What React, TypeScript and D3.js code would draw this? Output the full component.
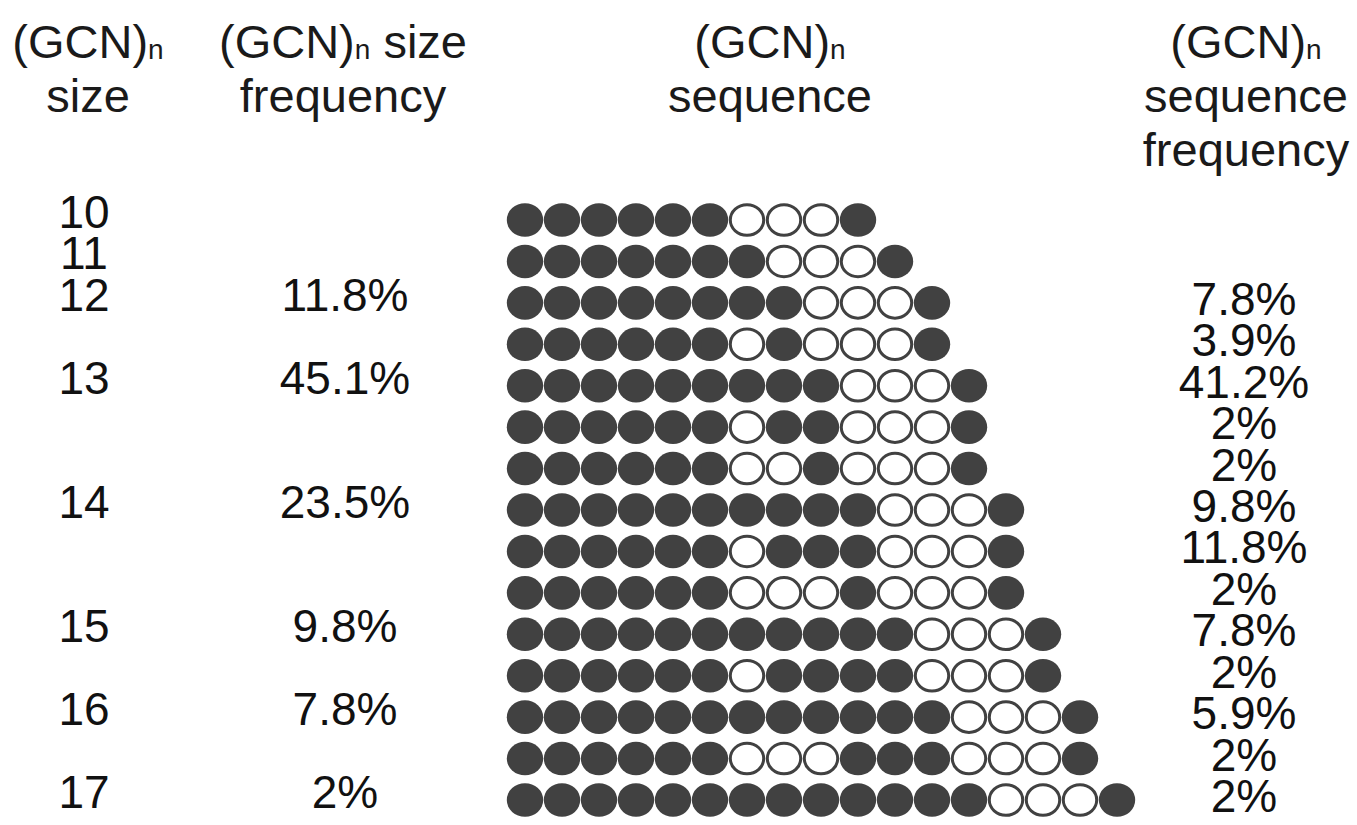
import React from 'react';
import * as d3 from 'd3';

// (GCN)n repeat data
// F = filled circle (GCG-like codon), O = open circle
const sequences: string[] = [
  'FFFFFFOOOF',
  'FFFFFFFOOOF',
  'FFFFFFFFOOOF',
  'FFFFFFOFOOOF',
  'FFFFFFFFFOOOF',
  'FFFFFFOFFOOOF',
  'FFFFFFOOFOOOF',
  'FFFFFFFFFFOOOF',
  'FFFFFFOFFFOOOF',
  'FFFFFFOOOFOOOF',
  'FFFFFFFFFFFOOOF',
  'FFFFFFOFFFFOOOF',
  'FFFFFFFFFFFFOOOF',
  'FFFFFFOOOFFFOOOF',
  'FFFFFFFFFFFFFOOOF',
];

const sequenceFreq: string[] = [
  '', '', '7.8%', '3.9%', '41.2%', '2%', '2%', '9.8%',
  '11.8%', '2%', '7.8%', '2%', '5.9%', '2%', '2%',
];

const sizes: number[] = [10, 11, 12, 13, 14, 15, 16, 17];
const sizeFreq: string[] = ['', '', '11.8%', '45.1%', '23.5%', '9.8%', '7.8%', '2%'];

// header lines: [text, subscript n?, trailing text]
const headers: { x: number; lines: [string, boolean, string][] }[] = [
  { x: 88, lines: [['(GCN)', true, ''], ['size', false, '']] },
  { x: 343, lines: [['(GCN)', true, ' size'], ['frequency', false, '']] },
  { x: 770, lines: [['(GCN)', true, ''], ['sequence', false, '']] },
  { x: 1246, lines: [['(GCN)', true, ''], ['sequence', false, ''], ['frequency', false, '']] },
];

const W = 1357;
const H = 825;
const FONT = '"Liberation Sans", Arial, Helvetica, sans-serif';
const DARK = '#414141';

export default function App() {
  const maxLen = d3.max(sequences, s => s.length) ?? 17;
  const x = d3.scaleLinear().domain([0, maxLen - 1]).range([525, 525 + 37 * (maxLen - 1)]);
  const y = d3.scalePoint<number>()
    .domain(d3.range(sequences.length))
    .range([220, 800]);

  // first row for each size
  const firstRow = (size: number) => sequences.findIndex(s => s.length === size);

  const baseOff = 16; // half of digit height -> baseline shift
  const rx = 18.2;
  const ry = 16.8;

  return (
    <svg width={W} height={H} style={{ position: 'absolute', left: 0, top: 0, background: '#fff' }}
      fontFamily={FONT}>
      <rect width={W} height={H} fill="#fff" />

      {/* headers */}
      {headers.map((h, i) => (
        <text key={i} x={h.x} textAnchor="middle" fontSize={47} fill="#1a1a1a">
          {h.lines.map((ln, j) => (
            <tspan key={j} x={h.x} y={58 + j * 54}>
              {ln[0]}
              {ln[1] && <tspan fontSize={28} dy={1}>n</tspan>}
              {ln[1] && <tspan dy={-1} fontSize={47}>{ln[2]}</tspan>}
            </tspan>
          ))}
        </text>
      ))}

      {/* size column + size frequency */}
      {sizes.map((s, i) => {
        const r = firstRow(s);
        const cy = (y(r) ?? 0) - 8;
        return (
          <g key={s} fontSize={46} fill="#111" textAnchor="middle">
            <text x={84} y={cy + baseOff}>{s}</text>
            {sizeFreq[i] && <text x={345} y={cy + baseOff}>{sizeFreq[i]}</text>}
          </g>
        );
      })}

      {/* sequences */}
      {sequences.map((seq, r) => (
        <g key={r} transform={`translate(0,${y(r)})`}>
          {seq.split('').map((c, k) => (
            c === 'F'
              ? <ellipse key={k} cx={x(k)} cy={0} rx={rx} ry={ry} fill={DARK} />
              : <ellipse key={k} cx={x(k)} cy={0} rx={rx - 1.5} ry={ry - 1.5} fill="#fff" stroke={DARK} strokeWidth={3} />
          ))}
        </g>
      ))}

      {/* sequence frequency */}
      {sequenceFreq.map((f, r) => f && (
        <text key={r} x={1244} y={(y(r) ?? 0) - 4 + baseOff} fontSize={46} fill="#111" textAnchor="middle">{f}</text>
      ))}
    </svg>
  );
}
